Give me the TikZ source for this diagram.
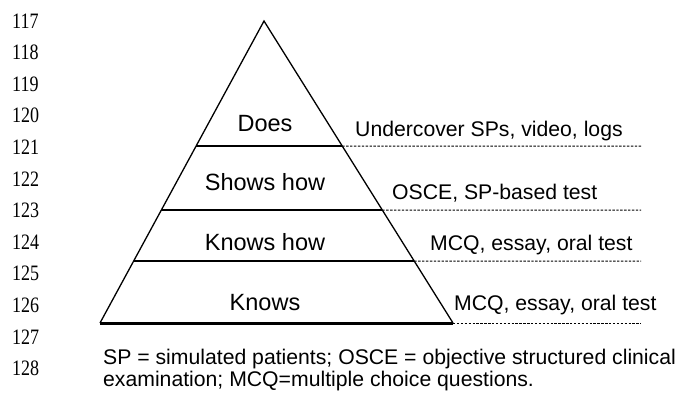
\documentclass[tikz,border=0pt]{standalone}
\usepackage{fontspec}
\setmainfont{Liberation Sans}
\newfontfamily\numfont[FakeStretch=0.82]{Liberation Serif}
\usetikzlibrary{calc}

\begin{document}
\begin{tikzpicture}[x=1pt,y=-1pt,
 level/.style={font=\fontsize{23.5}{27}\selectfont,anchor=base,inner sep=0pt},
 method/.style={font=\fontsize{21.2}{25}\selectfont,anchor=base west,inner sep=0pt},
 lineno/.style={font=\numfont\fontsize{22}{25}\selectfont,anchor=base west,inner sep=0pt},
 side/.style={line width=1.3pt,line join=miter},
 rung/.style={line width=1.4pt},
 guide/.style={line width=1pt,dash pattern=on 2.4pt off 1.5pt}]
\useasboundingbox (0,0) rectangle (676,392);
% line numbers
\foreach \n [count=\i from 0] in {117,...,128}
 \node[lineno] (ln\n) at (12,28+31.6*\i) {\n};
% pyramid
\coordinate (apex) at (264,21);
\coordinate (bl) at (100,323);
\coordinate (br) at (453,323);
\coordinate (l1) at ($(bl)!0.586!(apex)$);
\coordinate (r1) at ($(br)!0.586!(apex)$);
\coordinate (l2) at ($(bl)!0.374!(apex)$);
\coordinate (r2) at ($(br)!0.374!(apex)$);
\coordinate (l3) at ($(bl)!0.205!(apex)$);
\coordinate (r3) at ($(br)!0.205!(apex)$);
\draw[side] (bl) -- (apex) -- (br);
\draw[line width=3pt] (bl) -- (br);
\draw[rung] (l1) -- (r1);
\draw[rung] (l2) -- (r2);
\draw[rung] (l3) -- (r3);
% dotted guides to the right
\draw[guide] (r1) -- (641,146);
\draw[guide] (r2) -- (641,210);
\draw[guide] (r3) -- (641,261);
\draw[guide] (br) -- (641,323);
% levels
\node[level] (does) at (265,131) {Does};
\node[level] (shows) at (265,190) {Shows how};
\node[level] (knowshow) at (265,250) {Knows how};
\node[level] (knows) at (265,310) {Knows};
% assessment methods
\node[method] (m1) at (355,136) {Undercover SPs, video, logs};
\node[method] (m2) at (392,199) {OSCE, SP-based test};
\node[method] (m3) at (430,250) {MCQ, essay, oral test};
\node[method] (m4) at (454,310) {MCQ, essay, oral test};
% caption
\node[method] (cap1) at (103,364) {SP = simulated patients; OSCE = objective structured clinical};
\node[method] (cap2) at (103,386) {examination; MCQ=multiple choice questions.};
\end{tikzpicture}
\end{document}
